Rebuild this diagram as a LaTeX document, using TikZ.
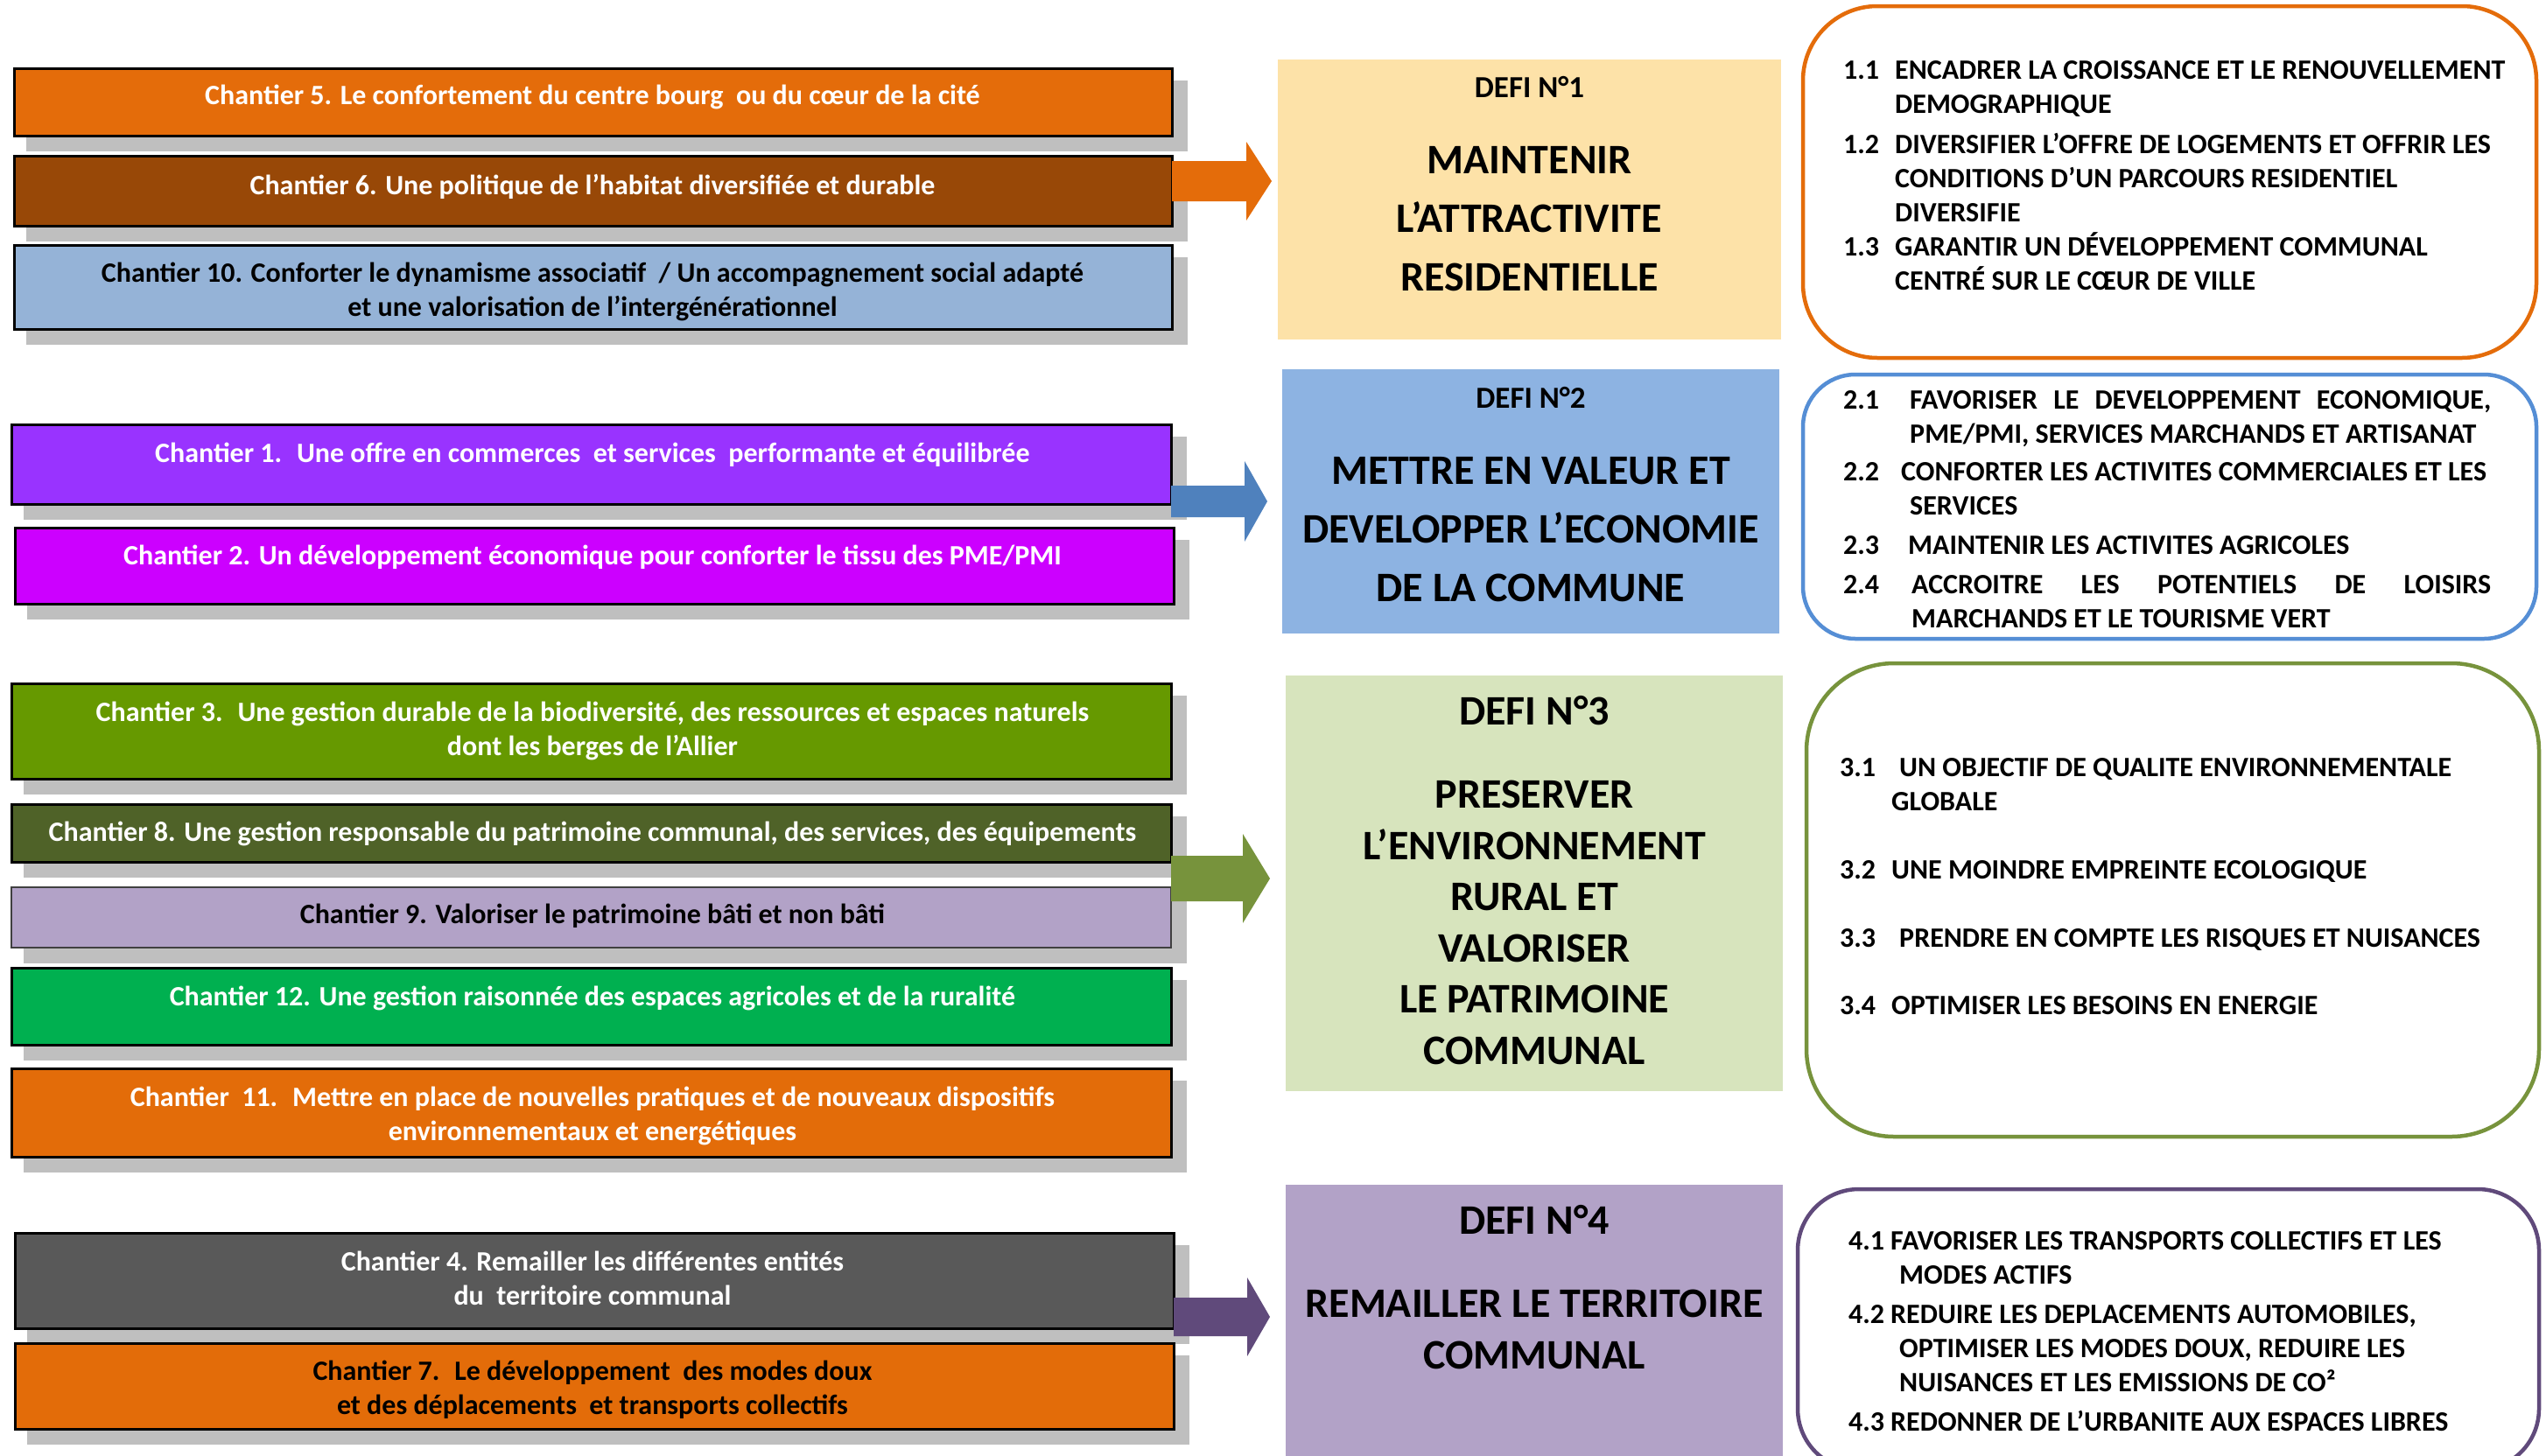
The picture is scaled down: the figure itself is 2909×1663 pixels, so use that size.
\documentclass[tikz,border=0pt]{standalone}
\usepackage{fontspec}
\setmainfont{Carlito}
\usetikzlibrary{calc}
\pgfdeclarelayer{bg}
\pgfsetlayers{bg,main}
\definecolor{c5col}{HTML}{E46C0A}
\definecolor{c6col}{HTML}{984807}
\definecolor{c10col}{HTML}{95B3D7}
\definecolor{c1col}{HTML}{9933FF}
\definecolor{c2col}{HTML}{CC00FF}
\definecolor{c3col}{HTML}{669900}
\definecolor{c8col}{HTML}{4F6228}
\definecolor{c9col}{HTML}{B2A2C7}
\definecolor{c12col}{HTML}{00B050}
\definecolor{c11col}{HTML}{E36C09}
\definecolor{c4col}{HTML}{595959}
\definecolor{c7col}{HTML}{E36C09}
\definecolor{shadowgray}{HTML}{BFBFBF}
\definecolor{d1col}{HTML}{FDE2A8}
\definecolor{d2col}{HTML}{8DB3E2}
\definecolor{d3col}{HTML}{D7E4BD}
\definecolor{d4col}{HTML}{B2A2C7}
\definecolor{a1col}{HTML}{E46C0A}
\definecolor{a2col}{HTML}{4F81BD}
\definecolor{a3col}{HTML}{77933C}
\definecolor{a4col}{HTML}{604A7B}
\definecolor{r1col}{HTML}{E46C0A}
\definecolor{r2col}{HTML}{558ED5}
\definecolor{r3col}{HTML}{77933C}
\definecolor{r4col}{HTML}{604A7B}
\newcommand\mlc[1]{\begin{tabular}[t]{@{}c@{}}#1\end{tabular}}
\newcommand\blockarr[6]{%
  \fill[#6] ($(#1)+(0,-#3)$) -- ($(#2)+(-#5,-#3)$) -- ($(#2)+(-#5,-#4)$) -- (#2)
    -- ($(#2)+(-#5,#4)$) -- ($(#2)+(-#5,#3)$) -- ($(#1)+(0,#3)$) -- cycle;}
\newcommand\shadowof[1]{%
  \fill[shadowgray] ($(#1.north west)+(14,14)$) rectangle ($(#1.south east)+(18,18)$);}
\begin{document}
\begin{tikzpicture}[x=1pt,y=-1pt,
  chbox/.style={draw=black, line width=3pt, inner sep=0pt, outer sep=0pt},
  chtxt/.style={anchor=base, inner sep=0pt, font=\fontsize{32}{39}\selectfont\bfseries},
  defbox/.style={draw=none, inner sep=0pt, outer sep=0pt},
  deftxt/.style={anchor=base, inner sep=0pt, font=\fontsize{35}{39}\selectfont\bfseries},
  titA/.style={anchor=base, inner sep=0pt, font=\fontsize{48}{67}\selectfont\bfseries},
  titB/.style={anchor=base, inner sep=0pt, font=\fontsize{48}{58.5}\selectfont\bfseries},
  rbox/.style={fill=white, line width=4.5pt, inner sep=0pt, outer sep=0pt},
  itm/.style={anchor=base west, inner sep=0pt, font=\fontsize{32}{39}\selectfont\bfseries}]
\path[use as bounding box] (0,0) rectangle (2909,1663);
\clip (0,0) rectangle (2909,1663);

% ---------- chantier boxes ----------
\node[chbox, fill=c5col, minimum width=1323pt, minimum height=77pt] (c5) at (677.5,116.5) {};
\node[chbox, fill=c6col, minimum width=1323pt, minimum height=80pt] (c6) at (677.5,218) {};
\node[chbox, fill=c10col, minimum width=1323pt, minimum height=96pt] (c10) at (677.5,328) {};
\node[chbox, fill=c1col, minimum width=1325pt, minimum height=91pt] (c1) at (675.5,530.5) {};
\node[chbox, fill=c2col, minimum width=1324pt, minimum height=87pt] (c2) at (679,646.5) {};
\node[chbox, fill=c3col, minimum width=1325pt, minimum height=109pt] (c3) at (675.5,835.5) {};
\node[chbox, fill=c8col, minimum width=1325pt, minimum height=66pt] (c8) at (675.5,952) {};
\node[chbox, fill=c9col, draw=black!75, line width=1.2pt, minimum width=1325pt, minimum height=69pt] (c9) at (675.5,1048.5) {};
\node[chbox, fill=c12col, minimum width=1325pt, minimum height=88pt] (c12) at (675.5,1150) {};
\node[chbox, fill=c11col, minimum width=1325pt, minimum height=101pt] (c11) at (675.5,1271.5) {};
\node[chbox, fill=c4col, minimum width=1324pt, minimum height=109pt] (c4) at (679,1463.5) {};
\node[chbox, fill=c7col, minimum width=1324pt, minimum height=98pt] (c7) at (679,1584) {};

\begin{pgfonlayer}{bg}
\fill[white] (0,0) rectangle (2909,1663);
\shadowof{c5}\shadowof{c6}\shadowof{c10}\shadowof{c1}\shadowof{c2}\shadowof{c3}
\shadowof{c8}\shadowof{c9}\shadowof{c12}\shadowof{c11}\shadowof{c4}\shadowof{c7}
\end{pgfonlayer}

\node[chtxt, text=white] (t5) at (677,119) {Chantier 5. Le confortement du centre bourg~ ou du cœur de la cité};
\node[chtxt, text=white] (t6) at (677,222) {Chantier 6. Une politique de l’habitat diversifiée et durable};
\node[chtxt, text=black] (t10) at (677,322) {\mlc{Chantier 10. Conforter le dynamisme associatif~ / Un accompagnement social adapté\\et une valorisation de l’intergénérationnel}};
\node[chtxt, text=white] (t1) at (677,528) {Chantier 1.~ Une offre en commerces~ et services~ performante et équilibrée};
\node[chtxt, text=white] (t2) at (677,645) {Chantier 2. Un développement économique pour conforter le tissu des PME/PMI};
\node[chtxt, text=white] (t3) at (677,824) {\mlc{Chantier 3.~ Une gestion durable de la biodiversité, des ressources et espaces naturels\\dont les berges de l’Allier}};
\node[chtxt, text=white] (t8) at (677,961) {Chantier 8. Une gestion responsable du patrimoine communal, des services, des équipements};
\node[chtxt, text=black] (t9) at (677,1055) {Chantier 9. Valoriser le patrimoine bâti et non bâti};
\node[chtxt, text=white] (t12) at (677,1149) {Chantier 12. Une gestion raisonnée des espaces agricoles et de la ruralité};
\node[chtxt, text=white] (t11) at (677,1264) {\mlc{Chantier~ 11.~ Mettre en place de nouvelles pratiques et de nouveaux dispositifs\\environnementaux et energétiques}};
\node[chtxt, text=white] (t4) at (677,1452) {\mlc{Chantier 4. Remailler les différentes entités\\du~ territoire communal}};
\node[chtxt, text=black] (t7) at (677,1577) {\mlc{Chantier 7.~ Le développement~ des modes doux\\et des déplacements~ et transports collectifs}};

% ---------- defi boxes ----------
\node[defbox, fill=d1col, minimum width=575pt, minimum height=320pt] (d1) at (1747.5,228) {};
\node[defbox, fill=d2col, minimum width=568pt, minimum height=302pt] (d2) at (1749,573) {};
\node[defbox, fill=d3col, minimum width=568pt, minimum height=475pt] (d3) at (1753,1009.5) {};
\node[defbox, fill=d4col, minimum width=568pt, minimum height=326pt] (d4) at (1753,1517) {};

\node[deftxt] (d1h) at (1747.5,111) {DEFI N°1};
\node[titA] (d1t) at (1747.5,198.5) {\mlc{MAINTENIR\\L’ATTRACTIVITE\\RESIDENTIELLE}};
\node[deftxt] (d2h) at (1749,466) {DEFI N°2};
\node[titA] (d2t) at (1749,553.5) {\mlc{METTRE EN VALEUR ET\\DEVELOPPER L’ECONOMIE\\DE LA COMMUNE}};
\node[titB] (d3h) at (1753,828.5) {DEFI N°3};
\node[titB] (d3t) at (1753,923.5) {\mlc{PRESERVER\\L’ENVIRONNEMENT\\RURAL ET\\VALORISER\\LE PATRIMOINE\\COMMUNAL}};
\node[titB] (d4h) at (1753,1410.5) {DEFI N°4};
\node[titB] (d4t) at (1753,1505.5) {\mlc{REMAILLER LE TERRITOIRE\\COMMUNAL}};

% ---------- block arrows ----------
\coordinate (a1s) at (1339,207);  \coordinate (a1t) at (1453,207);
\coordinate (a2s) at (1338,573);  \coordinate (a2t) at (1448,573);
\coordinate (a3s) at (1338,1004); \coordinate (a3t) at (1451,1004);
\coordinate (a4s) at (1341,1505); \coordinate (a4t) at (1451,1505);
\blockarr{a1s}{a1t}{23}{45}{29}{a1col}
\blockarr{a2s}{a2t}{18}{46}{26}{a2col}
\blockarr{a3s}{a3t}{26}{51}{31}{a3col}
\blockarr{a4s}{a4t}{22}{45}{26}{a4col}

% ---------- right boxes ----------
\node[rbox, draw=r1col, rounded corners=85pt, minimum width=838pt, minimum height=402pt] (r1) at (2479,208) {};
\node[rbox, draw=r2col, rounded corners=60pt, minimum width=838pt, minimum height=302pt] (r2) at (2479,579) {};
\node[rbox, draw=r3col, rounded corners=100pt, minimum width=837pt, minimum height=541pt] (r3) at (2482.5,1028.5) {};
\node[rbox, draw=r4col, rounded corners=70pt, minimum width=847pt, minimum height=321pt] (r4) at (2477.5,1519.5) {};

\node[itm] (i11) at (2106,90) {\begin{tabular}[t]{@{}p{59pt}@{}l@{}}1.1 & ENCADRER LA CROISSANCE ET LE RENOUVELLEMENT\\ & DEMOGRAPHIQUE\end{tabular}};
\node[itm] (i12) at (2106,175) {\begin{tabular}[t]{@{}p{59pt}@{}l@{}}1.2 & DIVERSIFIER L’OFFRE DE LOGEMENTS ET OFFRIR LES\\ & CONDITIONS D’UN PARCOURS RESIDENTIEL\\ & DIVERSIFIE\end{tabular}};
\node[itm] (i13) at (2106,292) {\begin{tabular}[t]{@{}p{59pt}@{}l@{}}1.3 & GARANTIR UN DÉVELOPPEMENT COMMUNAL\\ & CENTRÉ SUR LE CŒUR DE VILLE\end{tabular}};

\node[itm] (i21) at (2106,467) {\begin{tabular}[t]{@{}p{76pt}@{}l@{}}2.1 & \makebox[664pt][s]{FAVORISER LE DEVELOPPEMENT ECONOMIQUE,}\\ & PME/PMI, SERVICES MARCHANDS ET ARTISANAT\end{tabular}};
\node[itm] (i22) at (2106,549) {\begin{tabular}[t]{@{}p{66pt}@{}l@{}}2.2 & CONFORTER LES ACTIVITES COMMERCIALES ET LES\\ & \hspace*{10pt}SERVICES\end{tabular}};
\node[itm] (i23) at (2106,633) {\begin{tabular}[t]{@{}p{74pt}@{}l@{}}2.3 & MAINTENIR LES ACTIVITES AGRICOLES\end{tabular}};
\node[itm] (i24) at (2106,678) {\begin{tabular}[t]{@{}p{78pt}@{}l@{}}2.4 & \makebox[662pt][s]{ACCROITRE LES POTENTIELS DE LOISIRS}\\ & MARCHANDS ET LE TOURISME VERT\end{tabular}};

\node[itm] (i31) at (2102,887) {\begin{tabular}[t]{@{}p{68pt}@{}l@{}}3.1 & UN OBJECTIF DE QUALITE ENVIRONNEMENTALE\\ & \hspace*{-9pt}GLOBALE\end{tabular}};
\node[itm] (i32) at (2102,1004) {\begin{tabular}[t]{@{}p{59pt}@{}l@{}}3.2 & UNE MOINDRE EMPREINTE ECOLOGIQUE\end{tabular}};
\node[itm] (i33) at (2102,1082) {\begin{tabular}[t]{@{}p{68pt}@{}l@{}}3.3 & PRENDRE EN COMPTE LES RISQUES ET NUISANCES\end{tabular}};
\node[itm] (i34) at (2102,1159) {\begin{tabular}[t]{@{}p{59pt}@{}l@{}}3.4 & OPTIMISER LES BESOINS EN ENERGIE\end{tabular}};

\node[itm] (i41) at (2112,1428) {\begin{tabular}[t]{@{}p{48pt}@{}l@{}}4.1 & FAVORISER LES TRANSPORTS COLLECTIFS ET LES\\ & \hspace*{10pt}MODES ACTIFS\end{tabular}};
\node[itm] (i42) at (2112,1512) {\begin{tabular}[t]{@{}p{48pt}@{}l@{}}4.2 & REDUIRE LES DEPLACEMENTS AUTOMOBILES,\\ & \hspace*{10pt}OPTIMISER LES MODES DOUX, REDUIRE LES\\ & \hspace*{10pt}NUISANCES ET LES EMISSIONS DE CO²\end{tabular}};
\node[itm] (i43) at (2112,1635) {\begin{tabular}[t]{@{}p{48pt}@{}l@{}}4.3 & REDONNER DE L’URBANITE AUX ESPACES LIBRES\end{tabular}};
\end{tikzpicture}
\end{document}
